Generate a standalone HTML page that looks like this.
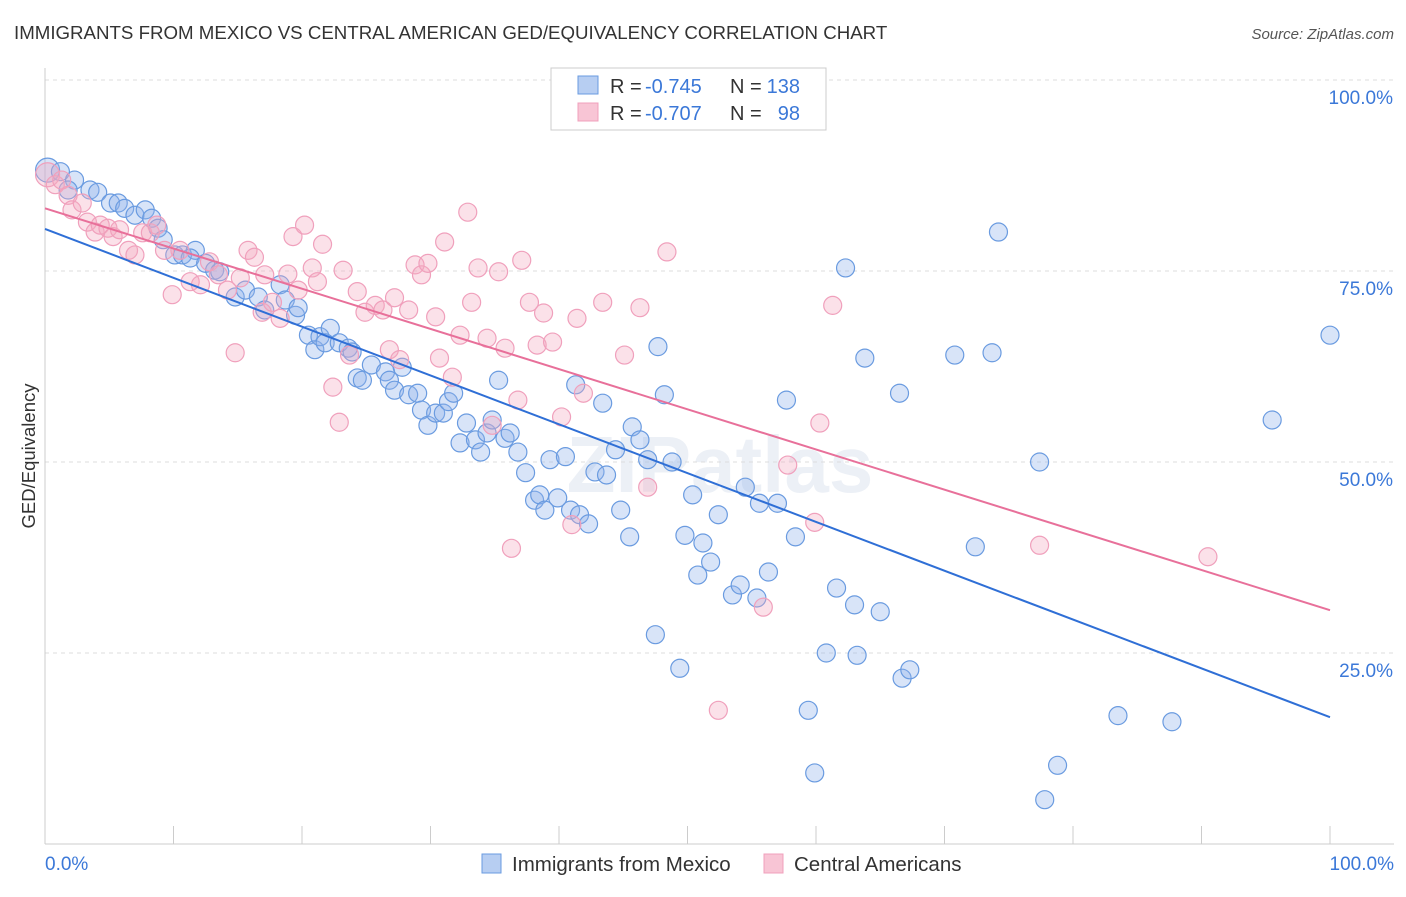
<!DOCTYPE html>
<html><head><meta charset="utf-8"><style>
body{margin:0;background:#fff;font-family:"Liberation Sans",sans-serif;}
svg text{font-family:"Liberation Sans",sans-serif;}
</style></head><body>
<svg id="chart" width="1406" height="892" xmlns="http://www.w3.org/2000/svg">
<text x="14" y="39" font-size="18.7" fill="#333">IMMIGRANTS FROM MEXICO VS CENTRAL AMERICAN GED/EQUIVALENCY CORRELATION CHART</text>
<text x="1394" y="39" font-size="15" fill="#555" text-anchor="end" font-style="italic">Source: ZipAtlas.com</text>
<text x="35" y="456" font-size="18.5" fill="#333" text-anchor="middle" transform="rotate(-90 35 456)">GED/Equivalency</text>
<text x="720" y="492" font-size="80" fill="#c8d4e6" fill-opacity="0.35" text-anchor="middle" font-weight="bold">ZIPatlas</text>
<g id="grid"></g><g id="axes"></g><g id="pts"></g><g id="lines"></g>
<g>
<rect x="551" y="68" width="275" height="62" fill="#fff" stroke="#ccc"/>
<rect x="578" y="76" width="20" height="18" fill="#b7cef2" stroke="#6a9be0"/>
<rect x="578" y="103" width="20" height="18" fill="#f8c5d5" stroke="#f0a0bc"/>
<g font-size="20">
<text x="610" y="93" fill="#333">R =</text><text x="645" y="93" fill="#3b78d8">-0.745</text>
<text x="730" y="93" fill="#333">N =</text><text x="800" y="93" fill="#3b78d8" text-anchor="end">138</text></g>
<g font-size="20">
<text x="610" y="120" fill="#333">R =</text><text x="645" y="120" fill="#3b78d8">-0.707</text>
<text x="730" y="120" fill="#333">N =</text><text x="800" y="120" fill="#3b78d8" text-anchor="end">98</text></g>
</g>
<g>
<rect x="482" y="854" width="19" height="19" fill="#b7cef2" stroke="#6a9be0"/>
<text x="512" y="871" font-size="20.5" fill="#333">Immigrants from Mexico</text>
<rect x="764" y="854" width="19" height="19" fill="#f8c5d5" stroke="#f0a0bc"/>
<text x="794" y="871" font-size="20.5" fill="#333">Central Americans</text>
</g>
</svg>
<script>
const blueX=[0.2,1.2,2.3,1.8,3.5,4.1,5.1,5.7,6.2,7.0,7.8,8.3,8.8,9.2,10.1,10.7,11.7,11.3,12.5,13.2,13.6,14.8,15.6,16.6,17.1,18.3,18.7,19.5,19.7,20.5,21.0,21.4,22.2,21.8,22.9,23.6,23.9,24.3,24.7,25.4,26.5,26.8,27.2,27.8,28.3,29.0,29.3,29.8,30.4,31.0,31.4,31.8,32.3,32.8,33.5,33.9,34.4,34.8,35.3,35.8,36.2,36.8,37.4,38.1,38.5,38.9,39.3,39.9,40.5,40.9,41.3,41.6,42.3,42.8,43.4,43.7,44.4,44.8,45.5,45.7,46.3,46.9,47.5,47.7,48.2,48.8,49.4,49.8,50.4,50.8,51.2,51.8,52.4,53.5,54.1,54.5,55.6,55.4,56.3,57.0,57.7,58.4,59.4,59.9,60.8,61.6,62.3,63.0,63.2,63.8,65.0,66.5,66.7,67.3,70.8,72.4,73.7,74.2,77.4,77.8,78.8,83.5,87.7,95.5,100];
const blueY=[88.2,88,86.9,85.6,85.6,85.3,83.9,83.9,83.2,82.3,83.0,81.9,80.6,79.1,77.1,77.1,77.7,76.7,76.0,75.1,74.9,71.6,72.5,71.6,69.9,73.2,71.2,69.2,70.2,66.6,64.7,66.4,67.5,65.6,65.6,64.9,64.4,61.0,60.7,62.7,61.8,60.7,59.4,62.4,58.8,59.0,56.8,54.8,56.4,56.4,57.9,59.0,52.5,55.1,52.9,51.3,53.8,55.5,60.7,53.1,53.8,51.3,48.6,45.0,45.7,43.7,50.3,45.3,50.7,43.7,60.1,43.1,41.9,48.7,57.7,48.3,51.6,43.7,40.2,54.6,52.9,50.3,27.4,65.1,58.8,50.0,23.0,40.4,45.7,35.2,39.4,36.9,43.1,32.6,33.9,46.7,44.6,32.2,35.6,44.6,58.1,40.2,17.5,9.3,25.0,33.5,75.4,31.3,24.7,63.6,30.4,59.0,21.7,22.8,64.0,38.9,64.3,80.1,50.0,5.8,10.3,16.8,16.0,55.5,66.6];
const pinkX=[0.2,0.8,1.3,1.8,2.1,2.9,3.3,3.9,4.3,4.9,5.3,5.8,6.5,7.0,7.6,8.2,8.7,9.3,9.9,10.5,11.3,12.1,12.8,13.5,14.2,14.8,15.2,15.8,16.3,16.9,17.1,17.7,18.3,18.9,19.3,19.7,20.2,20.8,21.2,21.6,22.4,22.9,23.2,23.7,24.3,24.9,25.7,26.3,26.8,27.2,27.6,28.3,28.8,29.3,29.8,30.4,30.7,31.1,31.7,32.3,32.9,33.2,33.7,34.4,34.8,35.3,35.8,36.3,36.8,37.1,37.7,38.3,38.8,39.5,40.2,41.0,41.4,41.9,43.4,45.1,46.3,46.9,48.4,52.4,55.9,57.8,59.9,60.3,61.3,77.4,90.5];
const pinkY=[87.6,86.3,86.9,84.9,83.0,83.9,81.4,80.1,81.0,80.6,79.5,80.4,77.7,77.1,80.0,80.0,81.0,77.7,71.9,77.7,73.6,73.2,76.2,74.5,72.5,64.3,74.1,77.7,76.8,69.6,74.5,70.9,68.8,74.6,79.5,72.5,81.0,75.4,73.6,78.5,59.8,55.2,75.1,64.0,72.3,69.6,70.5,69.9,64.7,71.5,63.4,69.9,75.8,74.5,76.0,69.0,63.6,78.8,61.1,66.6,82.7,70.9,75.4,66.2,54.8,74.9,64.9,38.7,58.1,76.4,70.9,65.3,69.5,65.7,55.9,41.8,68.8,59.0,70.9,64.0,70.2,46.7,77.5,17.5,31.0,49.6,42.1,55.1,70.5,39.1,37.6];
const blueLine=[80.5,16.6];
const pinkLine=[83.2,30.6];
const yTicks=[100,75,50,25];
const xTickVals=[0,10,20,30,40,50,60,70,80,90,100];

const NS="http://www.w3.org/2000/svg";
const X0=45,X1=1330,Y0=844,Y1=80;
function xs(v){return X0+(X1-X0)*v/100;}
function ys(v){return Y0-(Y0-Y1)*v/100;}
function mk(tag,attrs,parent){const e=document.createElementNS(NS,tag);for(const k in attrs)e.setAttribute(k,attrs[k]);document.getElementById(parent).appendChild(e);return e;}

yTicks.forEach(t=>{
  const l=mk('line',{x1:X0,x2:1394,y1:ys(t),y2:ys(t),stroke:'#ddd','stroke-dasharray':'4,4'},'grid');
  
  
  const tx=mk('text',{x:1393,y:ys(t)+24,'font-size':19,fill:'#3b78d8','text-anchor':'end'},'grid');
  tx.textContent=t.toFixed(1)+'%';
  
  
});
const ax=mk('line',{x1:X0,x2:1394,y1:Y0,y2:Y0,stroke:'#ccc'},'axes');


const ay=mk('line',{x1:X0,x2:X0,y1:68,y2:Y0,stroke:'#ccc'},'axes');


xTickVals.forEach(t=>{
  const l=mk('line',{x1:xs(t),x2:xs(t),y1:Y0-18,y2:Y0,stroke:'#ccc'},'axes');
  
  
});
[[0,'start','0.0%',X0],[100,'end','100.0%',1394]].forEach(a=>{
  const tx=mk('text',{x:a[3],y:870,'font-size':19,fill:'#3b78d8','text-anchor':a[1]},'axes');
  tx.textContent=a[2];
  
  
});
function pts(X,Y,fill,stroke,name){
  X.forEach((x,i)=>{
    const r=i===0?12:9;
    const c=mk('circle',{cx:xs(x),cy:ys(Y[i]),r:r,fill:fill,'fill-opacity':0.35,stroke:stroke,'stroke-width':1.2},'pts');
    
    
  });
}
pts(blueX,blueY,'#8fb3ea','#6a9be0','point-mexico');
pts(pinkX,pinkY,'#f4a9c1','#f0a0bc','point-central');
const bl=mk('line',{x1:xs(0),y1:ys(blueLine[0]),x2:xs(100),y2:ys(blueLine[1]),stroke:'#2f6fd6','stroke-width':2},'lines');


const pl=mk('line',{x1:xs(0),y1:ys(pinkLine[0]),x2:xs(100),y2:ys(pinkLine[1]),stroke:'#e8709a','stroke-width':2},'lines');


</script>
</body></html>
